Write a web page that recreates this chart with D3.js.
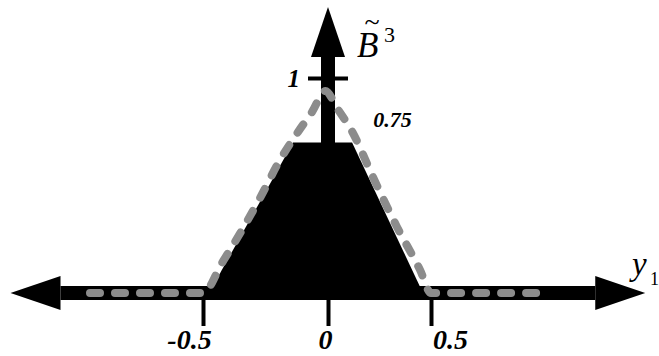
<!DOCTYPE html>
<html>
<head>
<meta charset="utf-8">
<script src="https://cdn.jsdelivr.net/npm/d3@7"></script>
<style>
  body { margin: 0; background: #fff; }
</style>
</head>
<body>
<svg id="chart" width="659" height="356"></svg>
<script>
// values
var xTicks = [-0.5, 0, 0.5],
    xTickLabels = ["-0.5", "0", "0.5"],
    yTicks = [1],
    yTickLabels = ["1"];

// black trapezoid (filled)
var trapX = [-0.476, -0.14, 0.117, 0.461],
    trapY = [0, 0.70, 0.70, 0];

// grey dashed curve
var curveX = [-0.952, -0.5, -0.424, -0.344, -0.272, -0.192, -0.12, -0.064, -0.01, 0.044, 0.121, 0.218, 0.335, 0.447, 0.5, 1.053],
    curveY = [0, 0, 0.14, 0.293, 0.442, 0.619, 0.749, 0.842, 0.94, 0.86, 0.744, 0.54, 0.307, 0.107, 0, 0];

var topLabel = "0.75";
var xExtent = [-1.27, 1.54],
    yTop = 1.33;

var serif = "'Liberation Serif', 'Times New Roman', Times, serif";
var svg = d3.select("#chart");

// the drawing is not quite symmetric, hence the piecewise scale
var x = d3.scaleLinear().domain([-0.5, 0, 0.5]).range([203, 328, 431]),
    y = d3.scaleLinear().domain([0, 1]).range([293, 78]);

var axisW = 14, headLen = 50, headHalf = 17;

// trapezoid
var trap = d3.range(trapX.length).map(function(i) { return [x(trapX[i]), y(trapY[i])]; });
svg.append("path")
    .attr("d", d3.line()(trap) + "Z")
    .attr("fill", "#000");

// horizontal axis with arrows both ends
var x0 = x(xExtent[0]), x1 = x(xExtent[1]), yy = y(0);
svg.append("line")
    .attr("x1", x0 + headLen).attr("x2", x1 - headLen)
    .attr("y1", yy).attr("y2", yy)
    .attr("stroke", "#000").attr("stroke-width", axisW);
svg.append("path")
    .attr("d", d3.line()([[x0, yy], [x0 + headLen, yy - headHalf], [x0 + headLen, yy + headHalf]]) + "Z")
    .attr("fill", "#000");
svg.append("path")
    .attr("d", d3.line()([[x1, yy], [x1 - headLen, yy - headHalf], [x1 - headLen, yy + headHalf]]) + "Z")
    .attr("fill", "#000");

// vertical axis with arrow
var xx = x(0), yt = y(yTop);
svg.append("line")
    .attr("x1", xx).attr("x2", xx)
    .attr("y1", yy).attr("y2", yt + headLen)
    .attr("stroke", "#000").attr("stroke-width", axisW);
svg.append("path")
    .attr("d", d3.line()([[xx, yt], [xx - headHalf, yt + headLen], [xx + headHalf, yt + headLen]]) + "Z")
    .attr("fill", "#000");

// x ticks
var labelShift = [-14, -3, 19];
var gx = svg.append("g")
    .attr("transform", "translate(0," + (yy + axisW / 2) + ")")
    .call(d3.axisBottom(x)
        .tickValues(xTicks)
        .tickSize(26)
        .tickPadding(3)
        .tickFormat(function(d, i) { return xTickLabels[i]; }));
gx.attr("font-family", null).attr("font-size", null);
gx.select(".domain").remove();
gx.selectAll("line").attr("stroke", "#000").attr("stroke-width", 4);
gx.selectAll("text")
    .attr("dx", function(d, i) { return labelShift[i]; })
    .style("font-family", serif)
    .style("font-size", "28px").style("font-weight", "bold").style("font-style", "italic")
    .attr("fill", "#000");

// y tick at 1
var gy = svg.append("g")
    .attr("transform", "translate(" + (xx + 20) + ",0)")
    .call(d3.axisLeft(y)
        .tickValues(yTicks)
        .tickSize(40)
        .tickPadding(8)
        .tickFormat(function(d, i) { return yTickLabels[i]; }));
gy.attr("font-family", null).attr("font-size", null);
gy.select(".domain").remove();
gy.selectAll("line").attr("stroke", "#000").attr("stroke-width", 4);
gy.selectAll("text")
    .style("font-family", serif)
    .style("font-size", "25px").style("font-weight", "bold").style("font-style", "italic")
    .attr("fill", "#000");

// dashed grey curve on top
var pts = d3.range(curveX.length).map(function(i) { return [curveX[i], curveY[i]]; });
svg.append("path")
    .datum(pts)
    .attr("d", d3.line()
        .curve(d3.curveMonotoneX)
        .x(function(d) { return x(d[0]); })
        .y(function(d) { return y(d[1]); }))
    .attr("fill", "none")
    .attr("stroke", "#8c8c8c")
    .attr("stroke-width", 8)
    .attr("stroke-linecap", "round")
    .attr("stroke-dasharray", "10,15");

// annotation 0.75
svg.append("text")
    .attr("x", x(0.22)).attr("y", y(0.77))
    .style("font-family", serif)
    .style("font-size", "22px").style("font-weight", "bold").style("font-style", "italic")
    .text(topLabel);

// B tilde cubed
var bl = svg.append("g").style("font-family", serif);
bl.append("text").attr("x", 357).attr("y", 57)
    .style("font-size", "35px").style("font-style", "italic").text("B");
bl.append("text").attr("x", 372).attr("y", 31).attr("text-anchor", "middle")
    .style("font-size", "28px").text("~");
bl.append("text").attr("x", 384).attr("y", 42)
    .style("font-size", "22px").text("3");

// y1 axis name
svg.append("text").attr("x", 632).attr("y", 275)
    .style("font-family", serif)
    .style("font-size", "33px").style("font-style", "italic").text("y");
svg.append("text").attr("x", 650).attr("y", 285)
    .style("font-family", serif)
    .style("font-size", "18px").text("1");
</script>
</body>
</html>
